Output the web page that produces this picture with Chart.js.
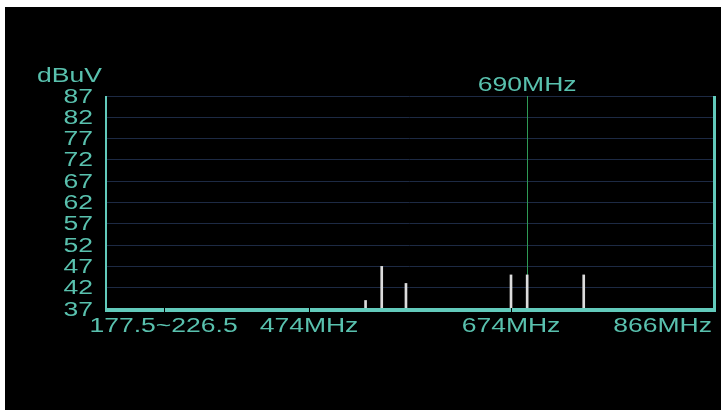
<!DOCTYPE html>
<html><head><meta charset="utf-8">
<script src="https://cdn.jsdelivr.net/npm/chart.js@4"></script>
<style>
html,body{margin:0;padding:0;background:#fff;width:721px;height:410px;overflow:hidden}
#wrap{position:absolute;left:5px;top:7px;width:716px;height:403px;background:#000}
canvas{display:block}
</style></head><body>
<div id="wrap"><canvas id="c" width="716" height="403"></canvas></div>
<script>
const unitLabel = 'dBuV';
const channelFreqs = [530, 546, 570, 674, 690, 746];
const channelLevels = [39, 47, 43, 45, 45, 45];
const markerFreq = 690;
const markerLabel = '690MHz';
const xTickFreqs = [330, 474, 674, 866];
const xTickLabels = ['177.5~226.5', '474MHz', '674MHz', '866MHz'];
const yMin = 37, yMax = 87, yStep = 5;
const xMin = 273, xMax = 874;

const TEAL = '#59c1ae', AXIS = '#62cabb', GRID = '#1d2a44', GREEN = '#2e9a55', BAR = '#dcdcdc';
const FAMILY = '"Liberation Sans", Arial, sans-serif';
const FSIZE = 19.5;
const FONT = FSIZE + 'px ' + FAMILY;
const KX = 1.36;

function wideText(ctx, str, x, y, align) {
  ctx.save();
  ctx.translate(x, y);
  ctx.scale(KX, 1);
  ctx.textAlign = align;
  ctx.textBaseline = 'alphabetic';
  ctx.fillText(str, 0, 0);
  ctx.restore();
}

const deco = {
  id: 'deco',
  beforeDatasetsDraw(chart) {
    const {ctx, chartArea: a, scales: {x}} = chart;
    const px = Math.round(x.getPixelForValue(markerFreq)) + 0.5;
    ctx.save();
    ctx.strokeStyle = GREEN; ctx.lineWidth = 1;
    ctx.beginPath(); ctx.moveTo(px, a.top); ctx.lineTo(px, a.bottom); ctx.stroke();
    ctx.restore();
  },
  afterDraw(chart) {
    const {ctx, chartArea: a, scales: {x, y}} = chart;
    ctx.save();
    ctx.fillStyle = AXIS;
    ctx.fillRect(a.left - 1, a.top, 2, a.bottom + 3 - a.top);
    ctx.fillRect(a.left - 1, a.bottom - 1, a.right + 3 - (a.left - 1), 4);
    ctx.fillRect(a.right, a.top, 3, a.bottom + 3 - a.top);
    ctx.fillStyle = '#000';
    for (let i = 0; i < xTickFreqs.length - 1; i++) {
      const px = Math.round(x.getPixelForValue(xTickFreqs[i]));
      ctx.fillRect(px, a.bottom - 1, 1, 4);
    }
    ctx.font = FONT; ctx.fillStyle = TEAL;
    // y tick labels from the scale's own ticks
    y.ticks.forEach(t => {
      wideText(ctx, String(t.value), a.left - 13, y.getPixelForValue(t.value) + 6.5, 'right');
    });
    for (let i = 0; i < xTickFreqs.length; i++) {
      const px = x.getPixelForValue(xTickFreqs[i]);
      if (i === xTickFreqs.length - 1) {
        wideText(ctx, xTickLabels[i], a.right - 1, 325, 'right');
      } else {
        wideText(ctx, xTickLabels[i], px, 325, 'center');
      }
    }
    wideText(ctx, markerLabel, x.getPixelForValue(markerFreq), 84, 'center');
    wideText(ctx, unitLabel, 32, 75, 'left');
    ctx.restore();
  }
};

new Chart(document.getElementById('c'), {
  type: 'bar',
  data: {
    datasets: [{
      data: channelFreqs.map((f, i) => ({x: f, y: channelLevels[i]})),
      backgroundColor: BAR, borderWidth: 0, barThickness: 2
    }]
  },
  options: {
    responsive: false, animation: false, devicePixelRatio: 1,
    layout: {padding: {top: 89, right: 8, left: 0, bottom: 0}},
    plugins: {legend: {display: false}, tooltip: {enabled: false}},
    scales: {
      x: {
        type: 'linear', min: xMin, max: xMax, offset: false,
        grid: {display: false}, border: {display: false}, ticks: {display: false},
        afterFit(s) { s.height = 101; s.paddingLeft = 0; s.paddingRight = 0; }
      },
      y: {
        min: yMin, max: yMax,
        ticks: {stepSize: yStep, autoSkip: false, display: false},
        grid: {color: GRID, lineWidth: 1, drawTicks: false},
        border: {display: false},
        afterFit(s) { s.width = 101; s.paddingTop = 0; s.paddingBottom = 0; }
      }
    }
  },
  plugins: [deco]
});
</script>
</body></html>
